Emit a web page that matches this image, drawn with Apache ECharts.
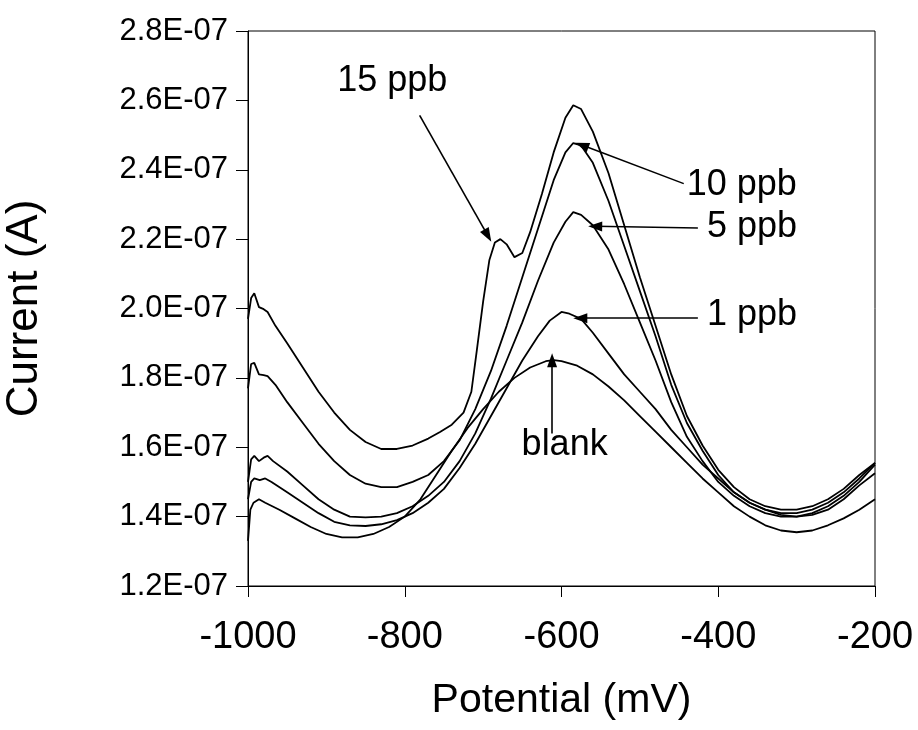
<!DOCTYPE html>
<html>
<head>
<meta charset="utf-8">
<script src="https://cdn.jsdelivr.net/npm/echarts@6/dist/echarts.min.js"></script>
<style>html,body{margin:0;padding:0;background:#fff}#c{width:918px;height:730px}</style>
</head>
<body>
<div id="c"></div>
<script>
// Potential (mV) and current (units of 1E-07 A)
var blankX = [-1000,-997,-993,-986,-978,-960,-940,-920,-900,-880,-860,-840,-820,-800,-780,-760,-740,-720,-700,-680,-660,-640,-620,-610,-600,-580,-560,-540,-520,-500,-480,-460,-440,-420,-400,-380,-360,-340,-320,-300,-280,-260,-240,-220,-200];
var blankY = [1.33,1.42,1.44,1.45,1.44,1.42,1.395,1.37,1.35,1.34,1.34,1.35,1.37,1.40,1.45,1.52,1.59,1.655,1.71,1.76,1.80,1.83,1.848,1.851,1.848,1.835,1.81,1.775,1.735,1.69,1.645,1.60,1.555,1.51,1.47,1.43,1.40,1.375,1.36,1.355,1.36,1.375,1.395,1.42,1.45];

var ppb1X = [-1000,-996,-992,-985,-978,-970,-950,-930,-910,-890,-870,-850,-830,-810,-790,-770,-750,-730,-710,-690,-670,-650,-630,-615,-600,-590,-575,-560,-540,-520,-500,-480,-460,-440,-420,-400,-380,-360,-340,-320,-300,-280,-260,-240,-220,-200];
var ppb1Y = [1.45,1.50,1.51,1.505,1.51,1.50,1.47,1.44,1.41,1.385,1.375,1.373,1.378,1.39,1.41,1.44,1.48,1.54,1.61,1.69,1.77,1.85,1.92,1.965,1.99,1.985,1.97,1.93,1.87,1.81,1.76,1.71,1.65,1.60,1.55,1.51,1.47,1.44,1.42,1.405,1.40,1.405,1.42,1.45,1.49,1.525];

var ppb5X = [-1000,-996,-992,-986,-980,-975,-968,-950,-930,-910,-890,-870,-850,-830,-810,-790,-770,-750,-730,-710,-690,-670,-650,-630,-610,-595,-585,-575,-560,-540,-520,-500,-480,-460,-440,-420,-400,-380,-360,-340,-320,-300,-280,-260,-240,-220,-200];
var ppb5Y = [1.50,1.565,1.575,1.56,1.57,1.575,1.56,1.53,1.49,1.45,1.42,1.40,1.398,1.40,1.41,1.43,1.46,1.50,1.56,1.64,1.74,1.85,1.96,2.08,2.19,2.25,2.278,2.27,2.24,2.17,2.07,1.96,1.85,1.73,1.63,1.56,1.50,1.46,1.43,1.41,1.40,1.40,1.41,1.43,1.46,1.50,1.55];

var ppb10X = [-1000,-996,-992,-986,-980,-975,-965,-950,-930,-910,-890,-870,-850,-830,-810,-790,-770,-750,-730,-710,-690,-670,-650,-630,-610,-595,-585,-575,-560,-540,-520,-500,-480,-460,-440,-420,-400,-380,-360,-340,-320,-300,-280,-260,-240,-220,-200];
var ppb10Y = [1.77,1.84,1.843,1.81,1.808,1.805,1.78,1.73,1.67,1.61,1.56,1.52,1.495,1.485,1.485,1.50,1.52,1.56,1.62,1.71,1.82,1.95,2.09,2.23,2.37,2.45,2.477,2.47,2.42,2.31,2.18,2.05,1.92,1.78,1.67,1.59,1.52,1.47,1.44,1.42,1.41,1.41,1.42,1.44,1.47,1.51,1.555];

var ppb15X = [-1000,-996,-992,-986,-980,-975,-965,-950,-930,-910,-890,-870,-850,-830,-810,-790,-770,-755,-740,-725,-715,-708,-700,-692,-685,-678,-670,-660,-650,-640,-625,-610,-595,-585,-575,-560,-540,-520,-500,-480,-460,-440,-420,-400,-380,-360,-340,-320,-300,-280,-260,-240,-220,-200];
var ppb15Y = [1.97,2.03,2.044,2.004,1.998,1.99,1.95,1.90,1.83,1.76,1.70,1.65,1.615,1.595,1.595,1.605,1.625,1.644,1.665,1.70,1.76,1.88,2.02,2.14,2.19,2.20,2.185,2.148,2.16,2.22,2.33,2.45,2.55,2.586,2.575,2.51,2.39,2.24,2.09,1.95,1.81,1.69,1.605,1.535,1.485,1.45,1.43,1.42,1.42,1.43,1.45,1.48,1.52,1.555];

var yTicks = {min: 1.2, max: 2.8, interval: 0.2};
var xTicks = {min: -1000, max: -200, interval: 200};

// Annotation labels: [x, y, text]
var labelPos = [[-816, 2.655, '15 ppb'], [-370, 2.356, '10 ppb'], [-357, 2.235, '5 ppb'], [-357, 1.98, '1 ppb'], [-596, 1.606, 'blank']];
// Arrows: [x1, y1, x2, y2] (tail -> head)
var arrows = [[-781, 2.557, -694, 2.21], [-444, 2.36, -574, 2.471], [-426, 2.232, -557, 2.237], [-426, 1.972, -576, 1.972], [-612, 1.64, -612, 1.851]];

function pairs(xs, ys) { return xs.map(function (x, i) { return [x, ys[i]]; }); }

var FONT = 'Liberation Sans';
var names = ['blank', '1 ppb', '5 ppb', '10 ppb', '15 ppb'];
var sets = [[blankX, blankY], [ppb1X, ppb1Y], [ppb5X, ppb5Y], [ppb10X, ppb10Y], [ppb15X, ppb15Y]];
var series = sets.map(function (s, i) {
  return {
    name: names[i], type: 'line', data: pairs(s[0], s[1]), showSymbol: false, symbol: 'none',
    itemStyle: {color: '#000'},
    lineStyle: {color: '#000', width: 1.8}, z: 3
  };
});
series[0].markLine = {
  silent: true, symbol: ['none', 'triangle'], symbolSize: [10, 14], animation: false,
  itemStyle: {color: '#000'},
  lineStyle: {color: '#000', width: 1.6, type: 'solid'}, label: {show: false},
  emphasis: {disabled: true},
  data: arrows.map(function (a) { return [{coord: [a[0], a[1]]}, {coord: [a[2], a[3]]}]; })
};
series.push({
  name: 'annot', type: 'scatter', symbolSize: 1, data: labelPos, silent: true,
  itemStyle: {color: 'rgba(0,0,0,0)', opacity: 1},
  label: {show: true, position: 'inside', formatter: function (p) { return p.value[2]; },
    fontFamily: FONT, fontSize: 36, color: '#000', opacity: 1}
});

var chart = echarts.init(document.getElementById('c'), null, {renderer: 'canvas'});
chart.setOption({
  animation: false,
  backgroundColor: '#fff',
  grid: {left: 248, right: 43, top: 31, bottom: 144, containLabel: false, outerBoundsMode: 'none',
    show: true, borderColor: '#000', borderWidth: 1},
  xAxis: {
    type: 'value', min: xTicks.min, max: xTicks.max, interval: xTicks.interval,
    name: 'Potential (mV)', nameLocation: 'middle', nameGap: 94,
    nameTextStyle: {fontFamily: FONT, fontSize: 41, color: '#000'},
    axisLine: {onZero: false, lineStyle: {color: '#000', width: 1}},
    axisTick: {show: true, inside: false, length: 11, lineStyle: {color: '#000'}},
    axisLabel: {margin: 33, fontFamily: FONT, fontSize: 38, color: '#000',
      formatter: function (v) { return String(v); }},
    splitLine: {show: false}
  },
  yAxis: {
    type: 'value', min: yTicks.min, max: yTicks.max, interval: yTicks.interval,
    name: 'Current (A)', nameLocation: 'middle', nameGap: 201, nameRotate: 90,
    nameTextStyle: {fontFamily: FONT, fontSize: 44, color: '#000'},
    axisLine: {onZero: false, lineStyle: {color: '#000', width: 1}},
    axisTick: {show: true, inside: false, length: 12, lineStyle: {color: '#000'}},
    axisLabel: {margin: 20, fontFamily: FONT, fontSize: 31, color: '#000',
      formatter: function (v) { return v.toFixed(1) + 'E-07'; }},
    splitLine: {show: false}
  },
  series: series
});
</script>
</body>
</html>
